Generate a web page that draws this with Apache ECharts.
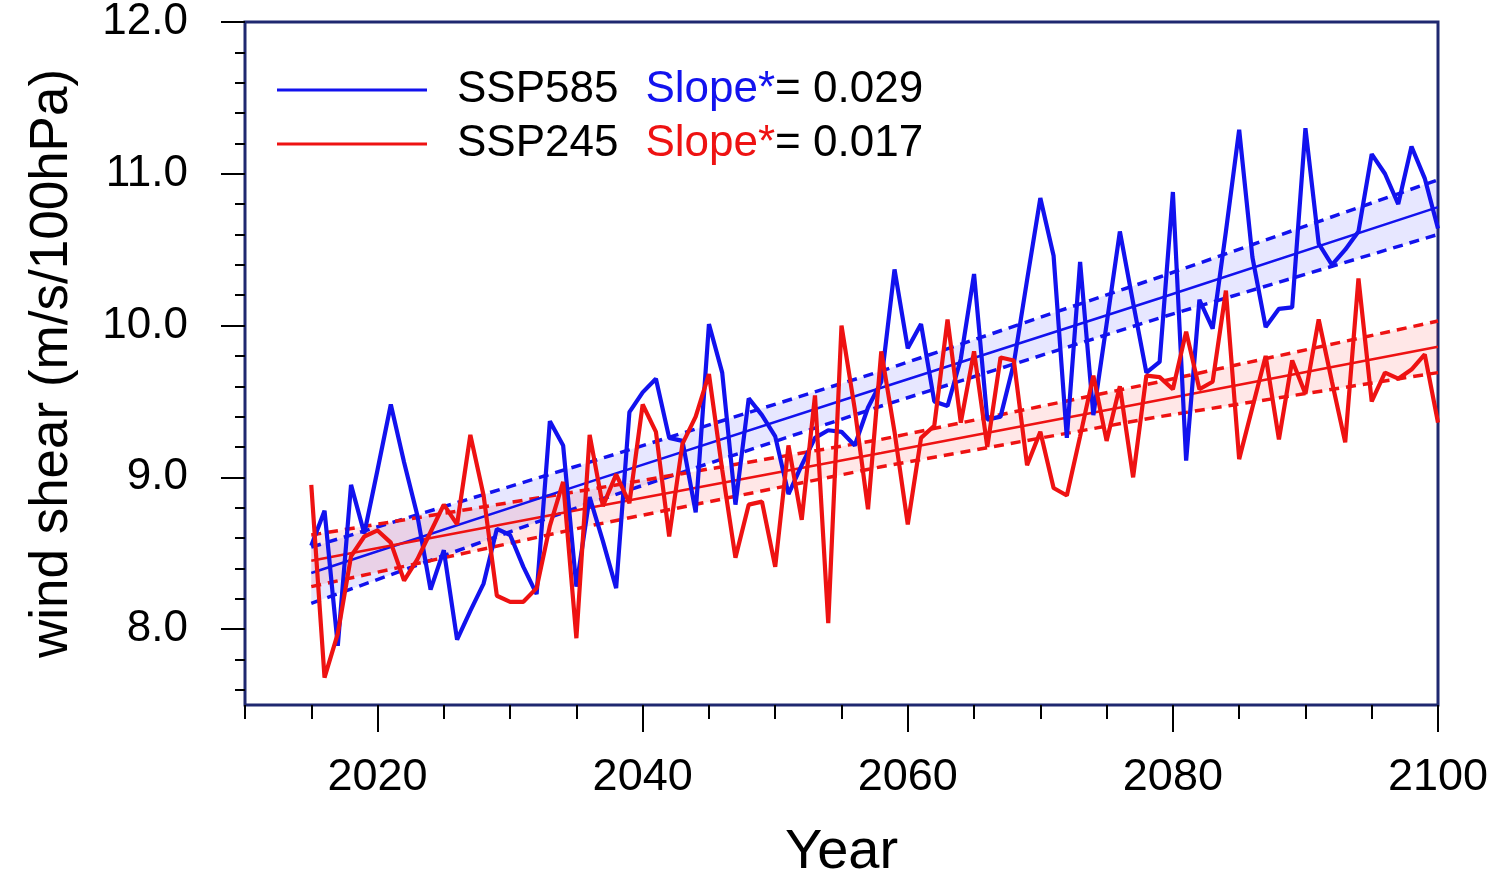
<!DOCTYPE html>
<html>
<head>
<meta charset="utf-8">
<script src="https://cdn.jsdelivr.net/npm/echarts@6/dist/echarts.min.js"></script>
<style>
  html, body { margin: 0; padding: 0; background: #fff; }
  #chart { width: 1496px; height: 883px; }
</style>
</head>
<body>
<div id="chart"></div>
<script>
// years 2015..2100
var years = [];
for (var y = 2015; y <= 2100; y++) years.push(y);

// SSP585 wind shear
var ssp585 = [
  8.55, 8.78, 7.89, 8.95, 8.63, 9.05, 9.48, 9.10, 8.75, 8.26,
  8.52, 7.93, 8.12, 8.30, 8.66, 8.62, 8.41, 8.23, 9.37, 9.21,
  8.28, 8.87, 8.58, 8.27, 9.43, 9.56, 9.65, 9.26, 9.24, 8.77,
  10.01, 9.69, 8.82, 9.52, 9.41, 9.27, 8.89, 9.08, 9.26, 9.31,
  9.30, 9.21, 9.46, 9.63, 10.37, 9.85, 10.01, 9.50, 9.47, 9.78,
  10.34, 9.38, 9.40, 9.75, 10.30, 10.84, 10.46, 9.26, 10.42, 9.41,
  10.01, 10.62, 10.15, 9.69, 9.76, 10.88, 9.11, 10.17, 9.98, 10.62,
  11.29, 10.45, 9.99, 10.11, 10.12, 11.30, 10.54, 10.40, 10.50, 10.62,
  11.13, 11.00, 10.80, 11.18, 10.97, 10.64
];
// SSP245 wind shear
var ssp245 = [
  8.95, 7.68, 7.97, 8.48, 8.61, 8.65, 8.57, 8.32, 8.46, 8.64,
  8.82, 8.69, 9.28, 8.88, 8.22, 8.18, 8.18, 8.27, 8.68, 8.97,
  7.94, 9.28, 8.81, 9.02, 8.83, 9.48, 9.30, 8.61, 9.22, 9.40,
  9.68, 9.05, 8.47, 8.82, 8.84, 8.41, 9.21, 8.72, 9.54, 8.04,
  10.00, 9.45, 8.79, 9.83, 9.30, 8.69, 9.26, 9.34, 10.04, 9.36,
  9.83, 9.20, 9.79, 9.77, 9.08, 9.30, 8.93, 8.88, 9.27, 9.67,
  9.24, 9.60, 9.00, 9.67, 9.66, 9.58, 9.96, 9.58, 9.63, 10.23,
  9.12, 9.46, 9.80, 9.25, 9.77, 9.55, 10.04, 9.63, 9.23, 10.31,
  9.50, 9.69, 9.65, 9.71, 9.81, 9.36
];

// trend lines and confidence bands
var trendYears = [2015, 2036, 2058, 2079, 2100];
var trend585 = [8.37, 8.97, 9.59, 10.18, 10.78];
var upper585 = [8.54, 9.10, 9.70, 10.32, 10.96];
var lower585 = [8.17, 8.83, 9.47, 10.05, 10.60];
var trend245 = [8.45, 8.80, 9.16, 9.51, 9.86];
var upper245 = [8.62, 8.92, 9.25, 9.63, 10.03];
var lower245 = [8.28, 8.68, 9.07, 9.40, 9.69];

var slopeText = { SSP585: '0.029', SSP245: '0.017' };

var xMajorTicks = [2020, 2040, 2060, 2080, 2100];
var yMajorTicks = [8, 9, 10, 11, 12];
var yMinorTicks = [];
for (var t = 76; t <= 120; t += 2) yMinorTicks.push(t / 10);

var BLUE = '#1212ee';
var RED = '#ee1212';
var FRAME = '#1f2870';
var FONT = '"Liberation Sans", Arial, Helvetica, sans-serif';

function pairs(xs, ys) {
  return xs.map(function (x, i) { return [x, ys[i]]; });
}

// shaded band between the dashed lines, plus the two dashed lines
function bandSeries(key, color, fill, lo, up) {
  var dash = { color: color, width: 3.5, type: [10, 7] };
  return [
    {
      name: key + '-band', type: 'custom', z: 1, silent: true,
      data: trendYears.map(function (x, i) { return [x, lo[i], up[i]]; }),
      encode: { x: 0, y: [1, 2] },
      renderItem: function (params, api) {
        if (params.dataIndex !== 0) return null;
        var pts = [];
        for (var i = 0; i < trendYears.length; i++) pts.push(api.coord([trendYears[i], up[i]]));
        for (var j = trendYears.length - 1; j >= 0; j--) pts.push(api.coord([trendYears[j], lo[j]]));
        return { type: 'polygon', shape: { points: pts }, style: { fill: fill } };
      }
    },
    {
      name: key + '-lo', type: 'line', z: 2, symbol: 'none', silent: true,
      data: pairs(trendYears, lo), lineStyle: dash
    },
    {
      name: key + '-up', type: 'line', z: 2, symbol: 'none', silent: true,
      data: pairs(trendYears, up), lineStyle: dash
    }
  ];
}

var series = [];
series = series.concat(bandSeries('b585', BLUE, 'rgba(40,40,255,0.11)', lower585, upper585));
series = series.concat(bandSeries('b245', RED, 'rgba(255,40,40,0.11)', lower245, upper245));
series.push({
  name: 't585', type: 'line', z: 2, symbol: 'none', silent: true,
  data: pairs(trendYears, trend585), lineStyle: { color: BLUE, width: 2.5 }
});
series.push({
  name: 't245', type: 'line', z: 2, symbol: 'none', silent: true,
  data: pairs(trendYears, trend245), lineStyle: { color: RED, width: 2.5 }
});
series.push({
  name: 'SSP585', type: 'line', z: 3, symbol: 'none',
  data: pairs(years, ssp585), color: BLUE, lineStyle: { color: BLUE, width: 4.2 }
});
series.push({
  name: 'SSP245', type: 'line', z: 4, symbol: 'none',
  data: pairs(years, ssp245), color: RED, lineStyle: { color: RED, width: 4.2 }
});

var chart = echarts.init(document.getElementById('chart'), null, { renderer: 'canvas' });

var richBase = { fontSize: 44, fontFamily: FONT, lineHeight: 44 };
chart.setOption({
  animation: false,
  backgroundColor: '#fff',
  grid: {
    left: 245, right: 58, top: 22, bottom: 178,
    containLabel: false, outerBoundsMode: 'none',
    show: true, borderColor: FRAME, borderWidth: 3, backgroundColor: 'transparent'
  },
  legend: {
    data: ['SSP585', 'SSP245'],
    orient: 'vertical',
    left: 272, top: 63,
    icon: 'rect',
    itemWidth: 150, itemHeight: 3, itemGap: 10,
    selectedMode: false,
    formatter: function (name) {
      var s = name === 'SSP585' ? 'sb' : 'sr';
      return '{p| }{n|' + name + '}{g| }{' + s + '|Slope*}{n|= ' + slopeText[name] + '}';
    },
    textStyle: {
      fontSize: 44, fontFamily: FONT, lineHeight: 44, color: '#000',
      rich: {
        p: Object.assign({ width: 25 }, richBase),
        g: Object.assign({ width: 27 }, richBase),
        n: Object.assign({ color: '#000' }, richBase),
        sb: Object.assign({ color: BLUE }, richBase),
        sr: Object.assign({ color: RED }, richBase)
      }
    }
  },
  xAxis: [
    {
      type: 'value', min: 2010, max: 2100, interval: 5, position: 'bottom',
      axisLine: { show: false },
      axisTick: { show: true, length: 14, lineStyle: { color: '#000', width: 2 } },
      axisLabel: { show: false },
      splitLine: { show: false }
    },
    {
      type: 'value', min: 2010, max: 2100, position: 'bottom',
      axisLine: { show: false },
      axisTick: { show: true, customValues: xMajorTicks, length: 27, lineStyle: { color: '#000', width: 2 } },
      axisLabel: {
        customValues: xMajorTicks, margin: 50,
        fontSize: 45, fontFamily: FONT, color: '#000',
        formatter: function (v) { return String(Math.round(v)); }
      },
      splitLine: { show: false },
      name: 'Year', nameLocation: 'middle', nameGap: 120,
      nameTextStyle: { fontSize: 56, fontFamily: FONT, color: '#000' }
    }
  ],
  yAxis: [
    {
      type: 'value', min: 7.5, max: 12, position: 'left',
      axisLine: { show: false },
      axisTick: { show: true, customValues: yMinorTicks, length: 10, lineStyle: { color: '#000', width: 2 } },
      axisLabel: { show: false },
      splitLine: { show: false }
    },
    {
      type: 'value', min: 7.5, max: 12, position: 'left',
      axisLine: { show: false },
      axisTick: { show: true, customValues: yMajorTicks, length: 24, lineStyle: { color: '#000', width: 2 } },
      axisLabel: {
        customValues: yMajorTicks, margin: 57,
        fontSize: 44, fontFamily: FONT, color: '#000',
        formatter: function (v) { return Number(v).toFixed(1); }
      },
      splitLine: { show: false },
      name: 'wind shear (m/s/100hPa)', nameLocation: 'middle', nameGap: 166, nameRotate: 90,
      nameTextStyle: { fontSize: 53, fontFamily: FONT, color: '#000' }
    }
  ],
  series: series
});
</script>
</body>
</html>
